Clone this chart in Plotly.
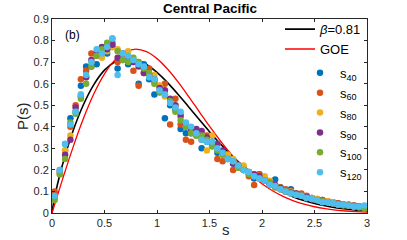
import plotly.graph_objects as go

# bin centres of the spacing histogram
s_bins = [round(0.025 + 0.05 * i, 3) for i in range(60)]

s40 = [0.09, 0.20, 0.32, 0.44, 0.47, 0.59, 0.68, 0.68, 0.69, 0.75,
       0.74, 0.77, 0.67, 0.72, 0.69, 0.70, 0.60, 0.69, 0.62, 0.55,
       0.56, 0.44, 0.50, 0.48, 0.39, 0.37, 0.37, 0.36, 0.30, 0.33,
       0.32, 0.28, 0.28, 0.26, 0.23, 0.21, 0.20, 0.18, 0.16, 0.18,
       0.155, 0.13, 0.155, 0.12, 0.10, 0.11, 0.09, 0.085, 0.07, 0.07,
       0.06, 0.06, 0.05, 0.05, 0.045, 0.04, 0.035, 0.035, 0.03, 0.025]
s60 = [0.10, 0.18, 0.29, 0.40, 0.50, 0.62, 0.66, 0.74, 0.73, 0.75,
       0.78, 0.79, 0.70, 0.71, 0.72, 0.66, 0.59, 0.65, 0.67, 0.61,
       0.59, 0.60, 0.41, 0.53, 0.41, 0.34, 0.33, 0.38, 0.34, 0.36,
       0.31, 0.25, 0.24, 0.27, 0.20, 0.22, 0.21, 0.17, 0.13, 0.18,
       0.165, 0.14, 0.12, 0.12, 0.11, 0.10, 0.09, 0.09, 0.08, 0.07,
       0.065, 0.06, 0.055, 0.05, 0.045, 0.04, 0.04, 0.035, 0.03, 0.03]
s80 = [0.07, 0.19, 0.29, 0.36, 0.47, 0.55, 0.63, 0.70, 0.74, 0.72,
       0.75, 0.77, 0.76, 0.73, 0.75, 0.71, 0.70, 0.67, 0.64, 0.64,
       0.59, 0.54, 0.52, 0.50, 0.46, 0.40, 0.39, 0.36, 0.37, 0.29,
       0.36, 0.32, 0.27, 0.27, 0.25, 0.21, 0.22, 0.19, 0.18, 0.16,
       0.17, 0.15, 0.13, 0.11, 0.10, 0.10, 0.09, 0.08, 0.075, 0.07,
       0.065, 0.055, 0.055, 0.05, 0.04, 0.04, 0.035, 0.03, 0.03, 0.025]
s90 = [0.08, 0.19, 0.27, 0.34, 0.49, 0.54, 0.63, 0.71, 0.74, 0.77,
       0.76, 0.78, 0.72, 0.74, 0.71, 0.70, 0.68, 0.65, 0.64, 0.62,
       0.58, 0.57, 0.53, 0.50, 0.45, 0.41, 0.39, 0.39, 0.38, 0.35,
       0.33, 0.32, 0.29, 0.25, 0.23, 0.22, 0.20, 0.19, 0.18, 0.17,
       0.15, 0.14, 0.13, 0.115, 0.10, 0.095, 0.09, 0.08, 0.075, 0.065,
       0.06, 0.055, 0.05, 0.045, 0.04, 0.04, 0.035, 0.03, 0.03, 0.025]
s100 = [0.06, 0.18, 0.25, 0.42, 0.46, 0.53, 0.60, 0.68, 0.73, 0.76,
        0.79, 0.81, 0.75, 0.71, 0.70, 0.72, 0.70, 0.67, 0.65, 0.60,
        0.56, 0.55, 0.52, 0.47, 0.43, 0.40, 0.37, 0.36, 0.36, 0.34,
        0.31, 0.29, 0.27, 0.25, 0.24, 0.21, 0.20, 0.18, 0.17, 0.16,
        0.15, 0.14, 0.12, 0.11, 0.10, 0.09, 0.085, 0.08, 0.07, 0.065,
        0.06, 0.055, 0.05, 0.045, 0.04, 0.035, 0.035, 0.03, 0.025, 0.02]
s120 = [0.08, 0.20, 0.32, 0.41, 0.47, 0.55, 0.64, 0.70, 0.76, 0.74,
        0.77, 0.81, 0.64, 0.74, 0.73, 0.71, 0.69, 0.68, 0.63, 0.62,
        0.57, 0.55, 0.51, 0.49, 0.47, 0.42, 0.40, 0.37, 0.34, 0.33,
        0.33, 0.30, 0.28, 0.25, 0.24, 0.22, 0.20, 0.19, 0.17, 0.16,
        0.15, 0.13, 0.125, 0.11, 0.10, 0.09, 0.085, 0.08, 0.07, 0.065,
        0.06, 0.05, 0.05, 0.045, 0.04, 0.04, 0.035, 0.03, 0.03, 0.035]

# theoretical curves, tabulated
s_curve = [0, 0.02, 0.05, 0.1, 0.2, 0.3, 0.4, 0.5, 0.6, 0.7, 0.8, 0.9, 1.0,
           1.1, 1.2, 1.3, 1.4, 1.5, 1.6, 1.7, 1.8, 1.9, 2.0, 2.1, 2.2, 2.3,
           2.4, 2.5, 2.6, 2.7, 2.8, 2.9, 3.0]
brody = [0, 0.0615, 0.1288, 0.2237, 0.3802, 0.5035, 0.5970, 0.6626, 0.7019,
         0.7172, 0.7118, 0.6888, 0.6519, 0.6048, 0.5509, 0.4934, 0.4347,
         0.3772, 0.3227, 0.2721, 0.2264, 0.1859, 0.1507, 0.1208, 0.0956,
         0.0747, 0.0577, 0.0441, 0.0333, 0.0249, 0.0184, 0.0134, 0.0097]
goe = [0, 0.0314, 0.0784, 0.1559, 0.3044, 0.4391, 0.5541, 0.6454, 0.7103,
       0.7483, 0.7602, 0.7483, 0.7162, 0.6680, 0.6083, 0.5415, 0.4718,
       0.4025, 0.3365, 0.2759, 0.2220, 0.1752, 0.1358, 0.1033, 0.0772,
       0.0567, 0.0409, 0.0290, 0.0202, 0.0138, 0.0093, 0.0062, 0.0040]

series = [("s<sub>40</sub>", s40, "#0072BD"),
          ("s<sub>60</sub>", s60, "#D95319"),
          ("s<sub>80</sub>", s80, "#EDB120"),
          ("s<sub>90</sub>", s90, "#7E2F8E"),
          ("s<sub>100</sub>", s100, "#77AC30"),
          ("s<sub>120</sub>", s120, "#4DBEEE")]

fig = go.Figure()
fig.add_trace(go.Scatter(x=s_curve, y=brody, mode="lines", line_shape="spline",
                         name="<i>β</i>=0.81", line=dict(color="black", width=1.6),
                         legend="legend"))
fig.add_trace(go.Scatter(x=s_curve, y=goe, mode="lines", line_shape="spline",
                         name="GOE", line=dict(color="#FF0000", width=1.3),
                         legend="legend"))
for name, vals, col in series:
    fig.add_trace(go.Scatter(x=s_bins, y=vals, mode="markers", name=name,
                             marker=dict(color=col, size=6.5, line=dict(width=0)),
                             legend="legend2"))

axis_common = dict(showgrid=False, zeroline=False, showline=True, linecolor="#262626",
                   linewidth=0.8, mirror="ticks", ticks="inside", ticklen=3,
                   tickcolor="#262626", tickfont=dict(size=11, color="#262626"))
fig.update_xaxes(range=[0, 3], tickvals=[0, 0.5, 1, 1.5, 2, 2.5, 3],
                 ticktext=["0", "0.5", "1", "1.5", "2", "2.5", "3"], **axis_common)
fig.update_yaxes(range=[0, 0.9], tickvals=[0, 0.1, 0.2, 0.3, 0.4, 0.5, 0.6, 0.7, 0.8, 0.9],
                 ticktext=["0", "0.1", "0.2", "0.3", "0.4", "0.5", "0.6", "0.7", "0.8", "0.9"],
                 **axis_common)

legend_common = dict(x=1.0, xanchor="right", yanchor="top", bgcolor="rgba(0,0,0,0)",
                     font=dict(size=13, color="black"), tracegroupgap=0, itemwidth=30)
fig.update_layout(
    width=407, height=240,
    margin=dict(l=52, r=40, t=19, b=27),
    paper_bgcolor="white", plot_bgcolor="white",
    font=dict(family="Liberation Sans, Arial, sans-serif", color="#262626"),
    title=dict(text="<b>Central Pacific</b>", x=0.516, xanchor="center", y=0.965,
               yanchor="middle", font=dict(size=13.5, color="black")),
    showlegend=True,
    legend=dict(y=1.025, **legend_common),
    legend2=dict(y=0.80, **legend_common),
    annotations=[
        dict(text="(b)", x=0.065, y=0.918, xref="paper", yref="paper", showarrow=False,
             xanchor="center", yanchor="middle", font=dict(size=12, color="black")),
        dict(text="P(s)", x=-0.095, y=0.5, xref="paper", yref="paper", showarrow=False,
             xanchor="center", yanchor="middle", textangle=-90,
             font=dict(size=15, color="#262626")),
        dict(text="s", x=0.551, y=-0.085, xref="paper", yref="paper", showarrow=False,
             xanchor="center", yanchor="middle", font=dict(size=15, color="#262626")),
    ],
)
fig.write_html("out.html", config={"displayModeBar": False},
               post_script="document.body.style.margin='0';")
